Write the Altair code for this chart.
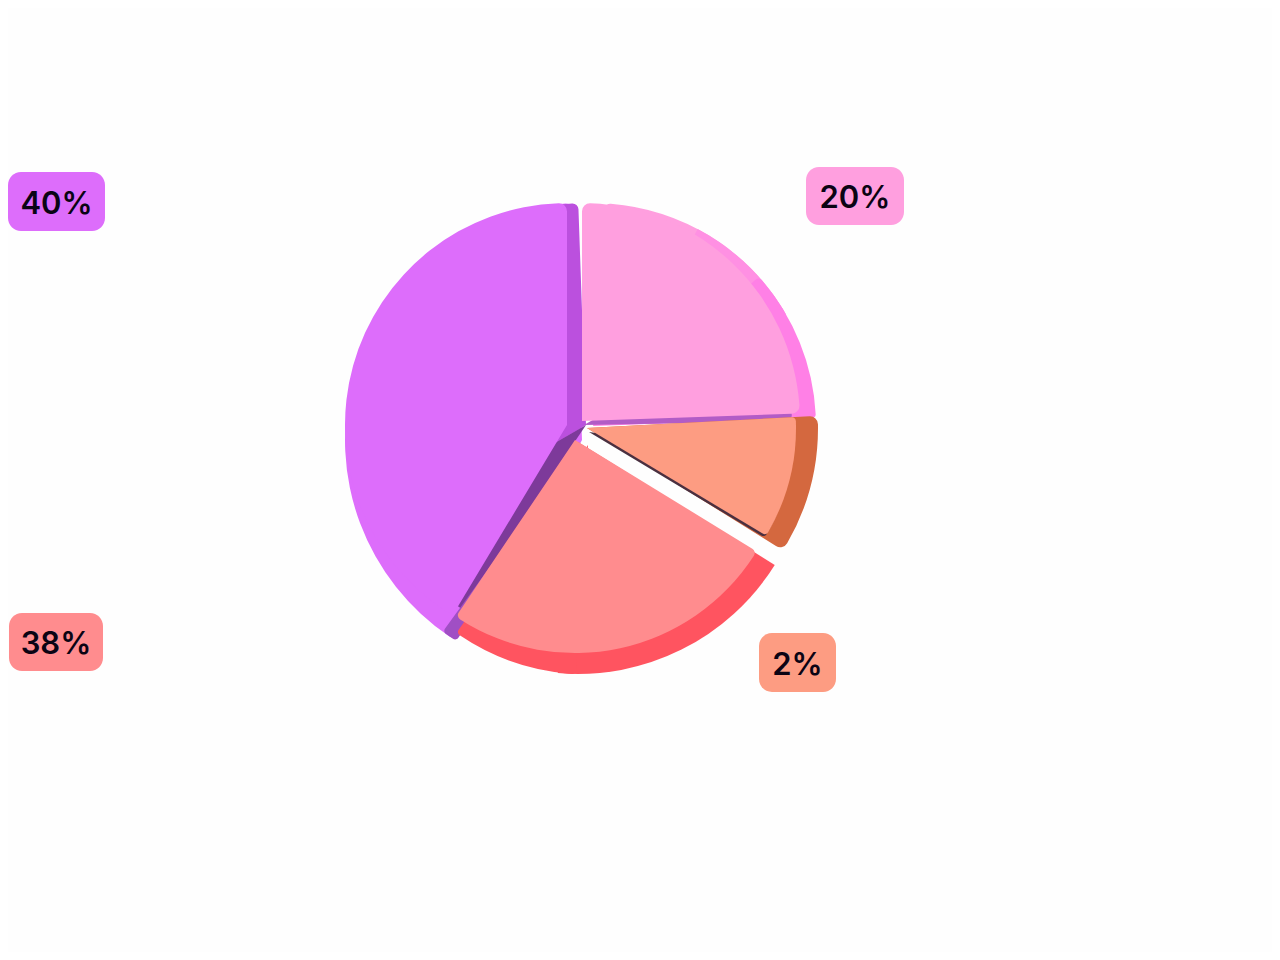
import altair as alt
import pandas as pd

# slice extents as drawn, in degrees clockwise from the top
part = ["purple_base", "purple_edge_r", "purple_edge_low", "purple_edge_l", "purple_face",
        "pink_base", "pink_rim_soft", "pink_rim", "pink_shadow", "pink_face",
        "orange_rim", "orange_shadow", "orange_face",
        "red_rim", "red_rim_end", "red_face"]
start = [212, 240, 214, 212, 211, 3, 28, 48, 60, 0, 87, 98, 87, 122, 183, 121.5]
end = [358, 358, 240, 216, 360, 60, 60, 88, 89, 88, 122, 121, 121, 185, 215, 214]
labels = ["40%", "20%", "2%", "38%"]
label_colors = ["#dd6dfb", "#ff9fdf", "#fd9c82", "#ff8c8e"]

df = pd.DataFrame({"part": part, "start": start, "end": end})

# drawing style per part: centre x, centre y, radius, colour, corner radius
style = {
    "purple_base": (582, 440, 237, "#dd6dfb", 8),
    "purple_edge_r": (586, 425, 222, "#bb50de", 6),
    "purple_edge_low": (586, 425, 222, "#7d3a9a", 0),
    "purple_edge_l": (582, 440, 237, "#a04fc4", 4),
    "purple_face": (567, 425, 222, "#dd6dfb", 8),
    "pink_base": (593, 426, 223, "#ff9fdf", 6),
    "pink_rim_soft": (593, 426, 223, "#ff90e3", 0),
    "pink_rim": (593, 426, 223, "#ff80e6", 4),
    "pink_shadow": (584, 425, 208, "#b25cc6", 6),
    "pink_face": (582, 421, 218, "#ff9fdf", 8),
    "orange_rim": (587, 428, 231, "#d4683f", 8),
    "orange_shadow": (589, 432, 205, "#4a3040", 4),
    "orange_face": (587, 428, 209, "#fd9c82", 4),
    "red_rim": (578, 442, 232, "#ff5460", 0),
    "red_rim_end": (588, 445, 229.5, "#ff5460", 4),
    "red_face": (575, 440, 213, "#ff8c8e", 5),
}
boxes = [(8, 105, 172, 231), (806, 904, 167, 225), (759, 836, 633, 692), (9, 103, 613, 671)]

M = 8
theta_scale = alt.Scale(domain=[0, 360], range=[0, 6.283185307])
layers = []
for name in part:
    cx, cy, r, col, cr = style[name]
    layers.append(
        alt.Chart(df[df.part == name])
        .mark_arc(outerRadius=r, innerRadius=0, cornerRadius=cr, color=col)
        .encode(
            theta=alt.Theta("start:Q", scale=theta_scale),
            theta2="end:Q",
            x=alt.value(cx - M),
            y=alt.value(cy - M),
        )
    )

for text, col, (x0, x1, y0, y1) in zip(labels, label_colors, boxes):
    row = pd.DataFrame({"label": [text]})
    layers.append(
        alt.Chart(row)
        .mark_rect(cornerRadius=13, color=col)
        .encode(x=alt.value(x0 - M), x2=alt.value(x1 - M), y=alt.value(y0 - M), y2=alt.value(y1 - M))
    )
    layers.append(
        alt.Chart(row)
        .mark_text(font="Inter", fontSize=31, fontWeight=600, color="#0b0414", align="center", baseline="middle")
        .encode(text="label:N", x=alt.value((x0 + x1) / 2 - M), y=alt.value((y0 + y1) / 2 - M + 3))
    )

chart = (
    alt.layer(*layers)
    .properties(width=1264, height=944, background="#fefefe", padding=0,
                autosize=alt.AutoSizeParams(type="none"))
    .configure_view(stroke=None)
)
chart.save("out.html", embed_options={"renderer": "svg", "actions": False})
